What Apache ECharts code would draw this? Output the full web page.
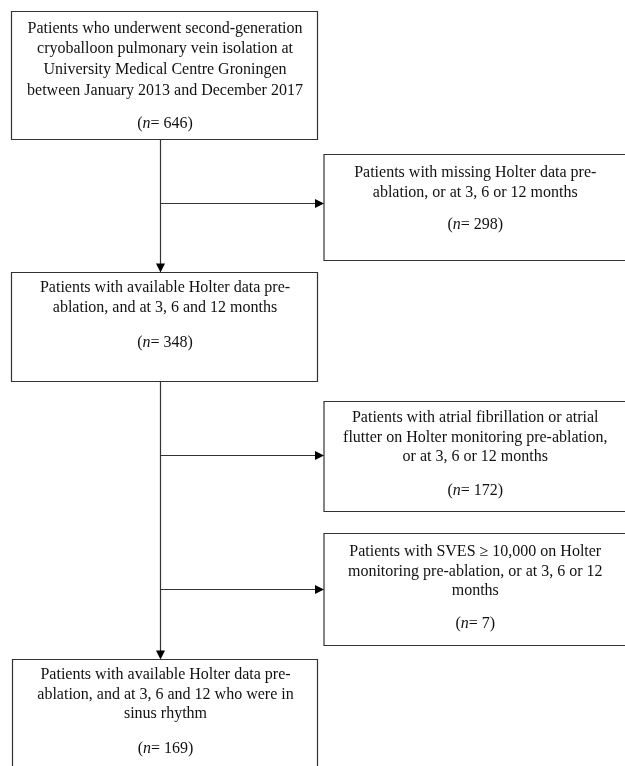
<!DOCTYPE html>
<html>
<head>
<meta charset="utf-8">
<script src="https://cdn.jsdelivr.net/npm/echarts@6/dist/echarts.min.js"></script>
<style>
html,body{margin:0;padding:0;background:#fff;}
#chart{width:625px;height:766px;}
</style>
</head>
<body>
<div id="chart"></div>
<script>
// ---- Data: box texts and counts ----
const boxLines = [
  ['Patients who underwent second-generation', 'cryoballoon pulmonary vein isolation at', 'University Medical Centre Groningen', 'between January 2013 and December 2017'],
  ['Patients with missing Holter data pre-', 'ablation, or at 3, 6 or 12 months'],
  ['Patients with available Holter data pre-', 'ablation, and at 3, 6 and 12 months'],
  ['Patients with atrial fibrillation or atrial', 'flutter on Holter monitoring pre-ablation,', 'or at 3, 6 or 12 months'],
  ['Patients with SVES \u2265 10,000 on Holter', 'monitoring pre-ablation, or at 3, 6 or 12', 'months'],
  ['Patients with available Holter data pre-', 'ablation, and at 3, 6 and 12 who were in', 'sinus rhythm']
];
const boxCounts = [646, 298, 348, 172, 7, 169];
// flow: main path (box index sequence) and exclusion branches (from main line to box)
const mainPath = [0, 2, 5];
const exclusions = [1, 3, 4];

// ---- Layout (positions/sizes, separate from data) ----
const layout = [
  {x: 11, y: 11, w: 306, h: 128, first: 17.5, gap: 20.7, n: 113},
  {x: 323.5, y: 154, w: 303, h: 106, first: 18.5, gap: 20.5, n: 71},
  {x: 11, y: 272, w: 306, h: 109, first: 15.5, gap: 20.5, n: 71},
  {x: 323.5, y: 401, w: 303, h: 110, first: 17, gap: 19.5, n: 90},
  {x: 323.5, y: 533, w: 303, h: 112, first: 19, gap: 19.5, n: 91},
  {x: 12, y: 659, w: 305, h: 120, first: 16, gap: 19.5, n: 90}
];
const trunkX = 160;
const branchY = [203, 455, 589];

const FONT = '"Liberation Serif", "Times New Roman", serif';
const LINE = '#333';
const els = [];

function nText(v){ return '({i|n}= ' + v + ')'; }

boxLines.forEach((lines, b) => {
  const L = layout[b];
  els.push({type: 'rect', shape: {x: L.x + 0.5, y: L.y + 0.5, width: L.w, height: L.h},
    style: {fill: '#fff', stroke: LINE, lineWidth: 1.2}, z: 1});
  const visibleW = Math.min(L.w, 625 - L.x);
  const cxText = L.x + visibleW / 2 + 1;
  lines.forEach((t, i) => {
    els.push({type: 'text', x: cxText, y: L.y + L.first + i * L.gap, z: 2,
      style: {text: t, font: '16px ' + FONT, fill: '#111', align: 'center', verticalAlign: 'middle'}});
  });
  els.push({type: 'text', x: cxText, y: L.y + L.n, z: 2,
    style: {text: nText(boxCounts[b]), font: '16px ' + FONT, fill: '#111', align: 'center', verticalAlign: 'middle',
      rich: {i: {font: 'italic 16px ' + FONT, fill: '#111'}}}});
});

function arrowHead(tx, ty, dir){
  // tip at (tx,ty); dir 'down' or 'right'
  const len = 9, half = 4.5;
  const pts = dir === 'down'
    ? [[tx - half, ty - len], [tx + half, ty - len], [tx, ty]]
    : [[tx - len, ty - half], [tx - len, ty + half], [tx, ty]];
  els.push({type: 'polygon', shape: {points: pts}, style: {fill: '#000'}, z: 3});
}

// trunk segments between main boxes
for (let k = 0; k < mainPath.length - 1; k++) {
  const a = layout[mainPath[k]], c = layout[mainPath[k + 1]];
  const y1 = a.y + a.h + 0.5, y2 = c.y;
  els.push({type: 'line', shape: {x1: trunkX + 0.5, y1: y1, x2: trunkX + 0.5, y2: y2 - 8},
    style: {stroke: LINE, lineWidth: 1.2}, z: 2});
  arrowHead(trunkX + 0.5, y2 + 0.5, 'down');
}
// exclusion branches
exclusions.forEach((b, k) => {
  const L = layout[b];
  const y = branchY[k] + 0.5;
  els.push({type: 'line', shape: {x1: trunkX + 0.5, y1: y, x2: L.x - 8, y2: y},
    style: {stroke: LINE, lineWidth: 1.2}, z: 2});
  arrowHead(L.x + 0.5, y, 'right');
});

const chart = echarts.init(document.getElementById('chart'), null, {renderer: 'canvas'});
chart.setOption({
  backgroundColor: '#fff',
  animation: false,
  graphic: {elements: els}
});
</script>
</body>
</html>
